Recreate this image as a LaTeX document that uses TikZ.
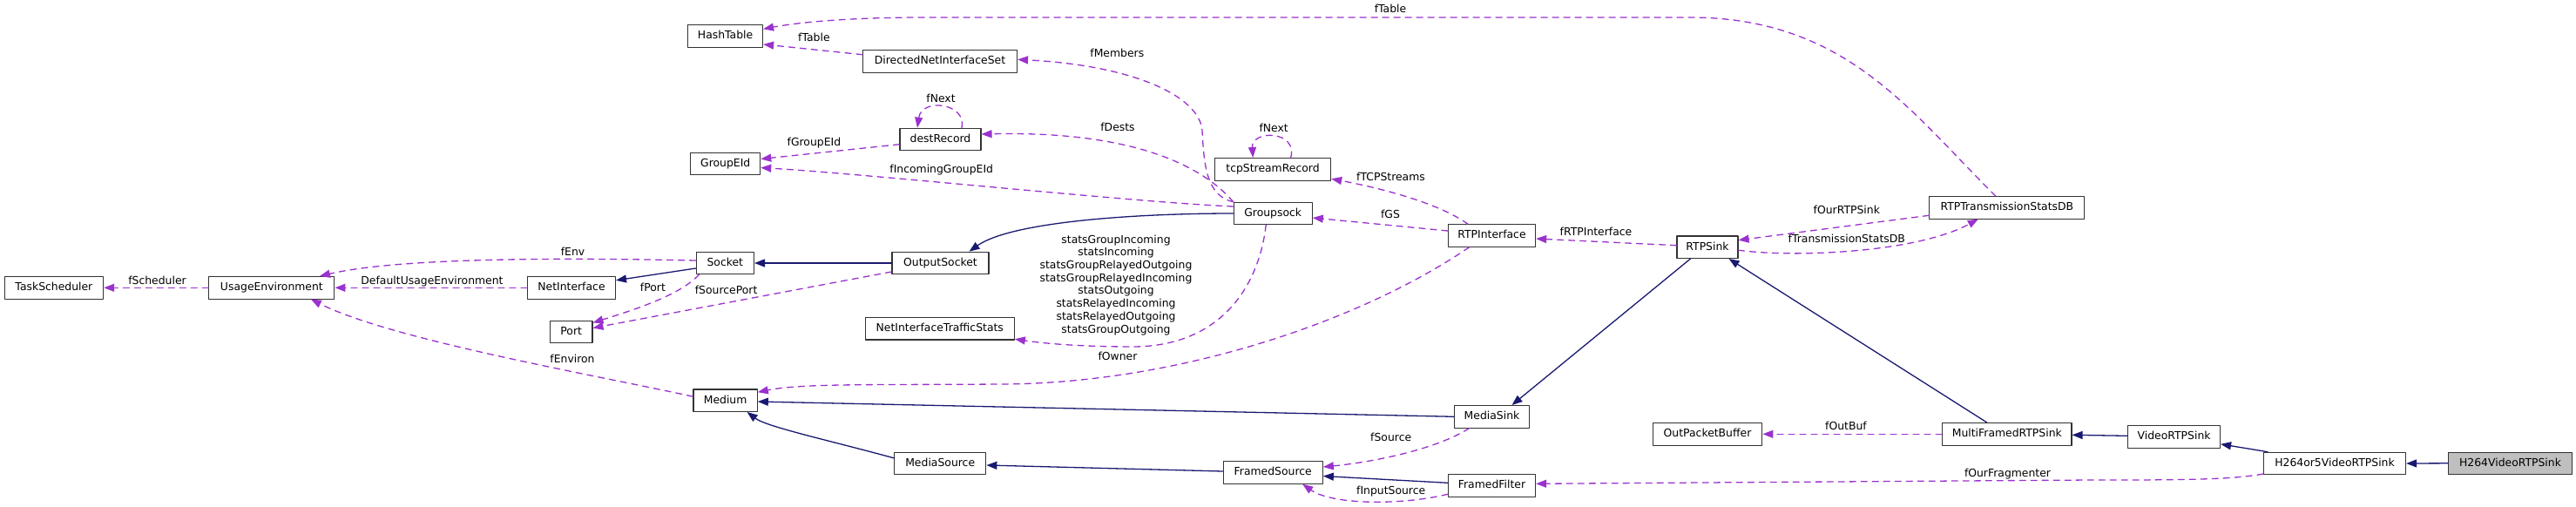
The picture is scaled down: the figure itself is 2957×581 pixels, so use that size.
\documentclass[tikz,border=0pt]{standalone}
\usepackage{fontspec}
\setmainfont{DejaVu Sans}
\usepackage{tikz}
\usetikzlibrary{arrows.meta}
\definecolor{inheritblue}{HTML}{191970}
\definecolor{memberpurple}{HTML}{9A32CD}
\definecolor{focusgray}{HTML}{BFBFBF}
\definecolor{boxedge}{HTML}{333333}

\begin{document}
\begin{tikzpicture}[x=1pt, y=-1pt, line cap=round, line join=round,
    font=\fontsize{12.4pt}{14.7pt}\selectfont,
    classbox/.style={draw=boxedge, line width=1.1pt, fill=white, minimum width=#1,
      minimum height=25.5pt, inner sep=0pt, text height=9.3pt, text depth=2.6pt},
    inherit/.style={draw=inheritblue, line width=1.3pt, -{Triangle[length=12pt, width=9pt]}},
    member/.style={draw=memberpurple, line width=1.3pt, dash pattern=on 7pt off 6pt,
      -{Triangle[length=12pt, width=9pt]}},
    elabel/.style={inner sep=0pt, text height=9.3pt, text depth=2.6pt}]
  \useasboundingbox (0,0) rectangle (2957,581);

  % Clases
  \node[classbox=113.5pt] (tasksch) at (61.9,330.3) {TaskScheduler};
  \node[classbox=144pt] (usageenv) at (311.9,330.3) {UsageEnvironment};
  \node[classbox=101pt] (netif) at (656,330.3) {NetInterface};
  \node[classbox=48.5pt] (port) at (655.7,381) {Port};
  \node[classbox=86pt] (hashtab) at (832.6,41.3) {HashTable};
  \node[classbox=80pt] (groupeid) at (832.7,188) {GroupEId};
  \node[classbox=66.3pt] (socket) at (832.3,302) {Socket};
  \node[classbox=73.3pt] (medium) at (832.6,459.7) {Medium};
  \node[classbox=177pt] (dnis) at (1079,70.3) {DirectedNetInterfaceSet};
  \node[classbox=93pt] (destrec) at (1079.5,160) {destRecord};
  \node[classbox=111pt] (outsock) at (1079.5,302) {OutputSocket};
  \node[classbox=171pt] (niftstats) at (1078.8,377.2) {NetInterfaceTrafficStats};
  \node[classbox=105.3pt] (mediasrc) at (1079.2,531.8) {MediaSource};
  \node[classbox=133.3pt] (tcprec) at (1461,194.3) {tcpStreamRecord};
  \node[classbox=90pt] (groupsock) at (1461.2,245) {Groupsock};
  \node[classbox=114.2pt] (framedsrc) at (1461.2,542.5) {FramedSource};
  \node[classbox=100.2pt] (rtpif) at (1712.5,270.5) {RTPInterface};
  \node[classbox=86pt] (mediasink) at (1712.5,478.3) {MediaSink};
  \node[classbox=100.2pt] (framedfilt) at (1712.5,557.3) {FramedFilter};
  \node[classbox=70pt] (rtpsink) at (1960,283.7) {RTPSink};
  \node[classbox=125.7pt] (outpktbuf) at (1960,498.3) {OutPacketBuffer};
  \node[classbox=178pt] (rtpstatsdb) at (2303.8,238.3) {RTPTransmissionStatsDB};
  \node[classbox=148.4pt] (mfrtpsink) at (2303.8,498.3) {MultiFramedRTPSink};
  \node[classbox=105.8pt] (videortpsink) at (2495.6,501.3) {VideoRTPSink};
  \node[classbox=163.1pt] (hsink) at (2680,532) {H264or5VideoRTPSink};
  \node[classbox=141.6pt, fill=focusgray] (h264sink) at (2881.5,531.8) {H264VideoRTPSink};

  % Herencia
  \draw[inherit] (groupsock.west) .. controls (1300,245) and (1160,255) .. ([xshift=33pt]outsock.north);
  \draw[inherit] (outsock.west) -- (socket.east);
  \draw[inherit] ([yshift=-6pt]socket.west) -- ([yshift=8.5pt]netif.east);
  \draw[inherit] (mediasink.west) -- ([yshift=-1.3pt]medium.east);
  \draw[inherit] ([yshift=6pt]mediasrc.west) .. controls (950,505) and (880,490) .. ([xshift=25pt]medium.south);
  \draw[inherit] ([xshift=-19.5pt]rtpsink.south) -- ([xshift=23pt]mediasink.north);
  \draw[inherit] ([yshift=1.5pt]framedsrc.west) -- ([yshift=-2.2pt]mediasrc.east);
  \draw[inherit] ([yshift=3pt]framedfilt.west) -- ([yshift=-4pt]framedsrc.east);
  \draw[inherit] ([xshift=-23pt]mfrtpsink.north) -- ([xshift=24.5pt]rtpsink.south);
  \draw[inherit] ([yshift=1pt]videortpsink.west) -- ([yshift=-1pt]mfrtpsink.east);
  \draw[inherit] ([xshift=-77pt]hsink.north) -- ([yshift=-8.5pt]videortpsink.east);
  \draw[inherit] (h264sink.west) -- (hsink.east);

  % Miembros
  \draw[member] ([xshift=-13pt]rtpstatsdb.north) .. controls (2194,130) and (2120,20) .. (1940,20)
    -- (1060,20) .. controls (980,20) and (920,25) .. ([yshift=8pt]hashtab.east);
  \draw[member] ([yshift=7.6pt]dnis.west) -- ([yshift=-9.6pt]hashtab.east);
  \draw[member] (groupsock.north west) .. controls (1385,225) and (1382,190) .. (1380,150)
    .. controls (1377,110) and (1300,75) .. ([yshift=2pt]dnis.east);
  \draw[member] ([xshift=24.5pt]destrec.north) .. controls (1110,118) and (1058,112) .. ([xshift=-26.5pt]destrec.north);
  \draw[member] ([yshift=-5.7pt]destrec.west) -- ([yshift=5.5pt]groupeid.east);
  \draw[member] (groupsock.north west) .. controls (1380,190) and (1300,150) .. ([yshift=6pt]destrec.east);
  \draw[member] ([xshift=20.7pt]tcprec.north) .. controls (1490,149) and (1436,149) .. ([xshift=-22.7pt]tcprec.north);
  \draw[member] ([yshift=8pt]groupsock.west) .. controls (1300,232) and (1000,200) .. ([yshift=-4.5pt]groupeid.east);
  \draw[member] ([xshift=-27.5pt]rtpif.north) .. controls (1650,232) and (1580,215) .. ([yshift=-11pt]tcprec.east);
  \draw[member] ([yshift=5.5pt]rtpif.west) -- ([yshift=-5pt]groupsock.east);
  \draw[member] ([yshift=2pt]rtpsink.west) -- ([yshift=-3.5pt]rtpif.east);
  \draw[member] ([yshift=3pt]socket.west) .. controls (700,297) and (470,293) .. ([xshift=55pt]usageenv.north);
  \draw[member] (netif.west) -- (usageenv.east);
  \draw[member] (usageenv.west) -- (tasksch.east);
  \draw[member] ([xshift=-30pt]socket.south) .. controls (780,340) and (720,358) .. ([yshift=10.5pt]port.east);
  \draw[member] ([yshift=-10pt]outsock.west) -- ([yshift=4.5pt]port.east);
  \draw[member] ([yshift=4.5pt]medium.west) .. controls (680,430) and (450,390) .. ([xshift=45pt]usageenv.south);
  \draw[member] ([xshift=-8pt]groupsock.south) .. controls (1445,330) and (1400,398) .. (1300,398)
    .. controls (1230,398) and (1190,393) .. ([yshift=-12pt]niftstats.east);
  \draw[member] ([xshift=-26pt]rtpif.south) .. controls (1560,370) and (1350,440) .. (1150,441)
    .. controls (1000,442) and (920,440) .. ([yshift=9.5pt]medium.east);
  \draw[member] ([xshift=-26pt]mediasink.south) .. controls (1650,515) and (1580,530) .. ([yshift=6.5pt]framedsrc.east);
  \draw[member] ([yshift=-10pt]framedfilt.west) .. controls (1610,580) and (1530,580) .. ([xshift=34pt]framedsrc.south);
  \draw[member] ([yshift=-12pt]hsink.west) .. controls (2560,551) and (2500,551) .. (2400,551)
    -- ([yshift=2pt]framedfilt.east);
  \draw[member] ([yshift=-9pt]rtpstatsdb.west) -- ([yshift=8pt]rtpsink.east);
  \draw[member] ([yshift=-3.5pt]rtpsink.east) .. controls (2060,296) and (2200,290) .. ([xshift=-33pt]rtpstatsdb.south);
  \draw[member] (mfrtpsink.west) -- (outpktbuf.east);

  % Etiquetas
  \node[elabel] (ltable) at (1596,11) {fTable};
  \node[elabel] (ltable2) at (934.4,44) {fTable};
  \node[elabel] (lmembers) at (1282.3,62.3) {fMembers};
  \node[elabel] (lnext) at (1080,114.3) {fNext};
  \node[elabel] (lgroupeid) at (934.4,164) {fGroupEId};
  \node[elabel] (ldests) at (1283,147) {fDests};
  \node[elabel] (lnext2) at (1462.2,148.3) {fNext};
  \node[elabel] (lincoming) at (1080.7,195.3) {fIncomingGroupEId};
  \node[elabel] (ltcp) at (1596.5,204.5) {fTCPStreams};
  \node[elabel] (lgs) at (1596,247) {fGS};
  \node[elabel] (lrtpif) at (1832,267.3) {fRTPInterface};
  \node[elabel] (lenv) at (657.5,290) {fEnv};
  \node[elabel] (ldefenv) at (496,322.8) {DefaultUsageEnvironment};
  \node[elabel] (lsched) at (180.5,322.7) {fScheduler};
  \node[elabel] (lport) at (749.4,330.7) {fPort};
  \node[elabel] (lsrcport) at (833.6,334) {fSourcePort};
  \node[elabel] (lenviron) at (657,412.7) {fEnviron};
  \node[inner sep=0pt, align=center] (lstats) at (1281,327.2) {statsGroupIncoming\\statsIncoming\\statsGroupRelayedOutgoing\\statsGroupRelayedIncoming\\statsOutgoing\\statsRelayedIncoming\\statsRelayedOutgoing\\statsGroupOutgoing};
  \node[elabel] (lowner) at (1283,410.3) {fOwner};
  \node[elabel] (lsource) at (1596.7,503.3) {fSource};
  \node[elabel] (linput) at (1596.7,563.7) {fInputSource};
  \node[elabel] (lourrtp) at (2119.8,242.3) {fOurRTPSink};
  \node[elabel] (ltxstats) at (2119.8,274.7) {fTransmissionStatsDB};
  \node[elabel] (loutbuf) at (2119,490.3) {fOutBuf};
  \node[elabel] (lfrag) at (2304.5,543.7) {fOurFragmenter};
\end{tikzpicture}
\end{document}
